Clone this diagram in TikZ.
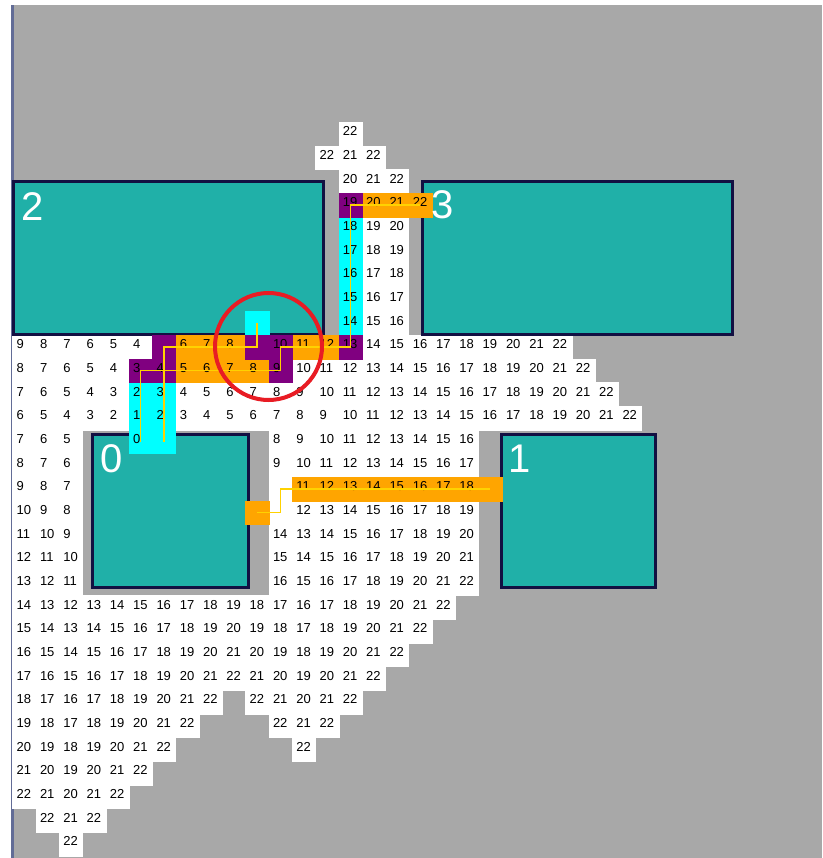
\documentclass[tikz,border=0pt]{standalone}
\usepackage{fontspec}
\setmainfont{Liberation Sans}
\usepackage{tikz}
\usetikzlibrary{positioning}
\definecolor{bggray}{RGB}{168,168,168}
\definecolor{framecol}{RGB}{98,108,150}
\definecolor{partfill}{RGB}{32,176,168}
\definecolor{partedge}{RGB}{18,16,66}
\definecolor{hwire}{RGB}{255,165,0}
\definecolor{vwire}{RGB}{0,255,255}
\definecolor{xwire}{RGB}{128,0,128}
\definecolor{trace}{RGB}{255,210,0}
\definecolor{ringred}{RGB}{232,28,36}
\tikzset{
  num/.style={anchor=west, inner sep=0pt, xshift=4pt, yshift=2.5pt,
    font=\fontsize{13}{13}\selectfont},
  wcell/.style={fill=white, draw=white, line width=0.3pt},
  hcell/.style={fill=hwire, draw=hwire, line width=0.3pt},
  vcell/.style={fill=vwire, draw=vwire, line width=0.3pt},
  xcell/.style={fill=xwire, draw=xwire, line width=0.3pt},
  partbox/.style={rectangle, anchor=north west, fill=partfill, draw=partedge,
    line width=3pt, inner sep=0pt, outer sep=0pt},
  partlabel/.style={inner sep=0pt, text=white, font=\fontsize{40}{40}\selectfont},
  wire/.style={draw=trace, line width=1.5pt},
  ring/.style={circle, draw=ringred, line width=4pt, inner sep=0pt}
}
\begin{document}
\begin{tikzpicture}[x=1pt, y=-1pt]
  \useasboundingbox[fill=white] (0,0) rectangle (822,858);
  \fill[framecol] (11,5) rectangle (13.5,858);
  \fill[bggray] (13.5,5) rectangle (822,858);

  % wave numbers
  \begin{scope}[shift={(12.5,122)}, x=23.3pt, y=-23.67pt]
    \foreach \r/\s/\vals in {
      0/14/{22}, 1/13/{22,21,22}, 2/14/{20,21,22}, 3/14/{19,20,21,22},
      4/14/{18,19,20}, 5/14/{17,18,19}, 6/14/{16,17,18}, 7/14/{15,16,17},
      8/14/{14,15,16},
      9/0/{9,8,7,6,5,4,5,6,7,8,9,10,11,12,13,14,15,16,17,18,19,20,21,22},
      10/0/{8,7,6,5,4,3,4,5,6,7,8,9,10,11,12,13,14,15,16,17,18,19,20,21,22},
      11/0/{7,6,5,4,3,2,3,4,5,6,7,8,9,10,11,12,13,14,15,16,17,18,19,20,21,22},
      12/0/{6,5,4,3,2,1,2,3,4,5,6,7,8,9,10,11,12,13,14,15,16,17,18,19,20,21,22},
      13/0/{7,6,5}, 13/11/{8,9,10,11,12,13,14,15,16},
      14/0/{8,7,6}, 14/11/{9,10,11,12,13,14,15,16,17},
      15/0/{9,8,7}, 15/12/{11,12,13,14,15,16,17,18},
      16/0/{10,9,8}, 16/12/{12,13,14,15,16,17,18,19},
      17/0/{11,10,9}, 17/11/{14,13,14,15,16,17,18,19,20},
      18/0/{12,11,10}, 18/11/{15,14,15,16,17,18,19,20,21},
      19/0/{13,12,11}, 19/11/{16,15,16,17,18,19,20,21,22},
      20/0/{14,13,12,13,14,15,16,17,18,19,18,17,16,17,18,19,20,21,22},
      21/0/{15,14,13,14,15,16,17,18,19,20,19,18,17,18,19,20,21,22},
      22/0/{16,15,14,15,16,17,18,19,20,21,20,19,18,19,20,21,22},
      23/0/{17,16,15,16,17,18,19,20,21,22,21,20,19,20,21,22},
      24/0/{18,17,16,17,18,19,20,21,22}, 24/10/{22,21,20,21,22},
      25/0/{19,18,17,18,19,20,21,22}, 25/11/{22,21,22},
      26/0/{20,19,18,19,20,21,22}, 26/12/{22},
      27/0/{21,20,19,20,21,22}, 28/0/{22,21,20,21,22},
      29/1/{22,21,22}, 30/2/{22}}
    {
      \foreach \v [count=\c from \s] in \vals {
        \fill[wcell] (\c,\r) rectangle ++(1,1);
        \node[num] (n-\c-\r) at (\c,\r+0.5) {\v};
      }
    }
    \fill[wcell] (11,15) rectangle ++(1,2);
  \end{scope}

  % parts
  \node[partbox, minimum width=309.2pt, minimum height=152.5pt] (part2) at (13.8,181.5) {};
  \node[partbox, minimum width=310.4pt, minimum height=152.5pt] (part3) at (422.3,181.5) {};
  \node[partbox, minimum width=155.2pt, minimum height=152.7pt] (part0) at (92.8,434.3) {};
  \node[partbox, minimum width=154pt, minimum height=152.7pt] (part1) at (501,434.3) {};

  % routed cells and traces
  \begin{scope}[shift={(12.5,122)}, x=23.3pt, y=-23.67pt]
    \foreach \c/\r/\v in {7/10/5, 8/10/6, 9/10/7, 10/10/8, 7/9/6, 8/9/7, 9/9/8,
        12/9/11, 13/9/12, 15/3/20, 16/3/21, 17/3/22, 10/16/{},
        12/15/11, 13/15/12, 14/15/13, 15/15/14, 16/15/15, 17/15/16,
        18/15/17, 19/15/18, 20/15/{}} {
      \fill[hcell] (\c,\r) rectangle ++(1,1);
      \node[num] (h-\c-\r) at (\c,\r+0.5) {\v};
    }
    \foreach \c/\r/\v in {5/13/0, 6/13/{}, 5/12/1, 6/12/2, 5/11/2, 6/11/3,
        10/8/{}, 14/8/14, 14/7/15, 14/6/16, 14/5/17, 14/4/18} {
      \fill[vcell] (\c,\r) rectangle ++(1,1);
      \node[num] (v-\c-\r) at (\c,\r+0.5) {\v};
    }
    \foreach \c/\r/\v in {5/10/3, 6/10/4, 6/9/{}, 10/9/{}, 11/10/9, 11/9/10,
        14/9/13, 14/3/19} {
      \fill[xcell] (\c,\r) rectangle ++(1,1);
      \node[num] (x-\c-\r) at (\c,\r+0.5) {\v};
    }

    \coordinate (pin0a) at (5.5,13.5);
    \coordinate (pin0b) at (6.5,13.5);
    \coordinate (pin0c) at (10.5,16.5);
    \coordinate (pin1) at (20.5,15.5);
    \coordinate (pin2) at (10.5,8.5);
    \coordinate (pin3) at (17.5,3.5);

    \draw[wire] (pin0a) |- (11.5,10.5) |- (14.5,9.5) |- (pin3);
    \draw[wire] (pin0b) |- (10.5,9.5) -- (pin2);
    \draw[wire] (pin0c) -| (11.5,15.5) -- (pin1);
  \end{scope}

  \node[partlabel, below right=10.5pt and 7pt of part2.north west] (lab2) {2};
  \node[partlabel, below right=8.5pt and 9pt of part3.north west] (lab3) {3};
  \node[partlabel, below right=10.5pt and 7.5pt of part0.north west] (lab0) {0};
  \node[partlabel, below right=10.5pt and 7pt of part1.north west] (lab1) {1};

  \node[ring, minimum size=107pt] (focus) at (268.5,346.5) {};
\end{tikzpicture}
\end{document}
